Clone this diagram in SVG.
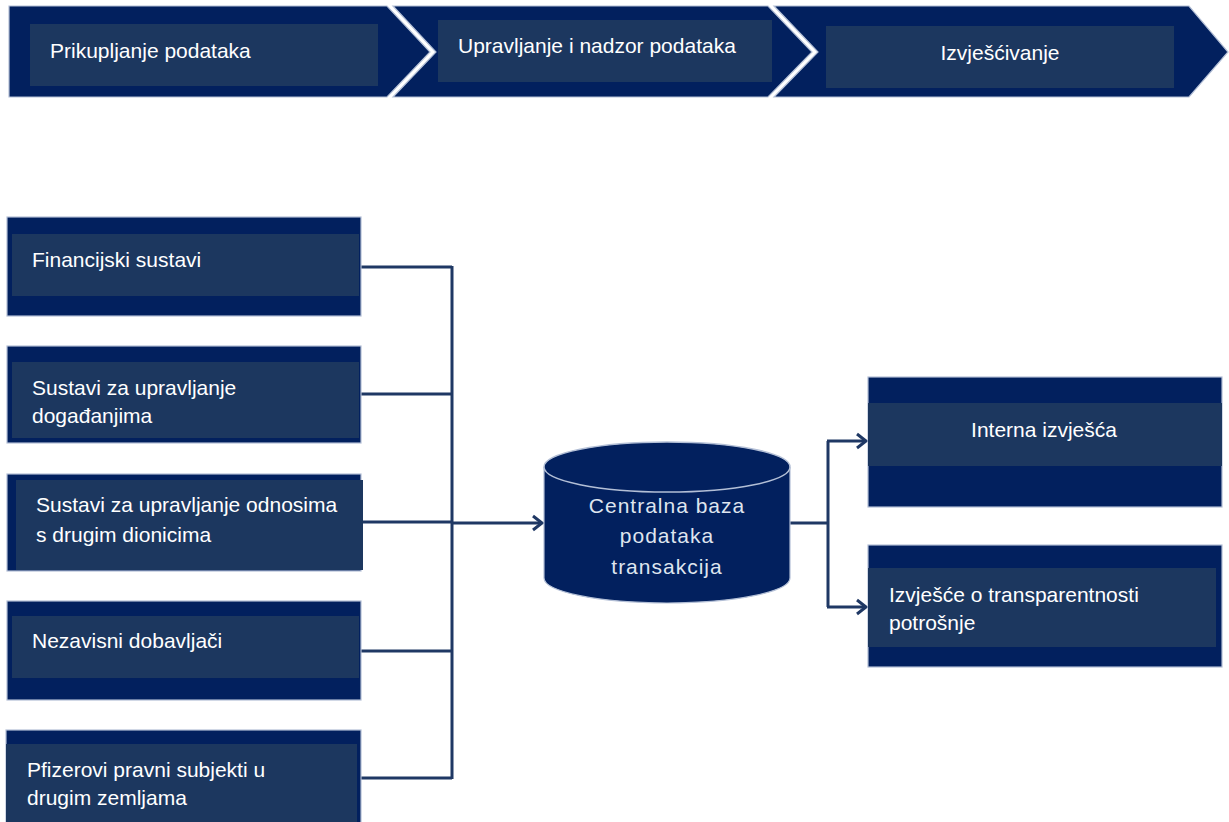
<svg xmlns="http://www.w3.org/2000/svg" width="1229" height="822" viewBox="0 0 1229 822">
<defs>
<style>
.outer{fill:#02205e;stroke:#b3bfd6;stroke-width:1.2}
.inner{fill:#1c375f}
.t{font-family:"Liberation Sans",Arial,sans-serif;font-size:21px;fill:#ffffff}
.tc{font-family:"Liberation Sans",Arial,sans-serif;font-size:21px;fill:#dfe5ef;letter-spacing:1px;text-anchor:middle}
.conn{fill:none;stroke:#1f3864;stroke-width:3}
</style>
<marker id="arr" markerUnits="userSpaceOnUse" markerWidth="14" markerHeight="18" refX="11" refY="9" orient="auto">
<path d="M2,2 L11,9 L2,16" fill="none" stroke="#1f3864" stroke-width="3" stroke-linejoin="miter"/>
</marker>
</defs>
<rect width="1229" height="822" fill="#ffffff"/>

<g id="step1">
<polygon class="outer" points="9,6 387,6 430,52 387,97 9,97"/>
<rect class="inner" x="30" y="24" width="348" height="62"/>
<text class="t" x="50" y="58" font-size="22">Prikupljanje podataka</text>
</g>
<g id="step2">
<polygon class="outer" points="393,6 768,6 812,52 768,97 393,97 436,52"/>
<rect class="inner" x="438" y="20" width="334" height="62"/>
<text class="t" x="458" y="53">Upravljanje i nadzor podataka</text>
</g>
<g id="step3">
<polygon class="outer" points="774,6 1189,6 1228,52 1189,97 774,97 818,52"/>
<rect class="inner" x="826" y="26" width="348" height="62"/>
<text class="t" x="1000" y="60" text-anchor="middle">Izvješćivanje</text>
</g>

<g id="connectors">
<path class="conn" d="M361,267 H452 M361,394 H452 M361,522 H452 M361,651 H452 M361,778 H452 M452,266 V779"/>
<path class="conn" d="M452,523 H542" marker-end="url(#arr)"/>
<path class="conn" d="M790,523 H828 M828,441 V607"/>
<path class="conn" d="M827,441 H866" marker-end="url(#arr)"/>
<path class="conn" d="M827,607 H866" marker-end="url(#arr)"/>
</g>

<g id="src1">
<rect class="outer" x="7" y="217" width="354" height="99"/>
<rect class="inner" x="12" y="234" width="347" height="62"/>
<text class="t" x="32" y="267">Financijski sustavi</text>
</g>
<g id="src2">
<rect class="outer" x="7" y="346" width="354" height="97"/>
<rect class="inner" x="12" y="362" width="347" height="76"/>
<text class="t" x="32" y="395">Sustavi za upravljanje</text>
<text class="t" x="32" y="423">događanjima</text>
</g>
<g id="src3">
<rect class="outer" x="7" y="474" width="354" height="97"/>
<rect class="inner" x="16" y="480" width="347" height="90"/>
<text class="t" x="36" y="512">Sustavi za upravljanje odnosima</text>
<text class="t" x="36" y="542">s drugim dionicima</text>
</g>
<g id="src4">
<rect class="outer" x="7" y="601" width="354" height="99"/>
<rect class="inner" x="12" y="616" width="347" height="62"/>
<text class="t" x="32" y="648">Nezavisni dobavljači</text>
</g>
<g id="src5">
<rect class="outer" x="6" y="730" width="355" height="100"/>
<rect class="inner" x="6" y="744" width="351" height="86"/>
<text class="t" x="27" y="777">Pfizerovi pravni subjekti u</text>
<text class="t" x="27" y="805">drugim zemljama</text>
</g>

<g id="database">
<path d="M544,467 V578 A123,25 0 0 0 790,578 V467" fill="#02205e" stroke="#b3bfd6" stroke-width="1.2"/>
<ellipse cx="667" cy="467" rx="123" ry="25" fill="#02205e" stroke="#b3bfd6" stroke-width="1.5"/>
<text class="tc" x="667" y="513">Centralna baza</text>
<text class="tc" x="667" y="543">podataka</text>
<text class="tc" x="667" y="574">transakcija</text>
</g>

<g id="out1">
<rect class="outer" x="868" y="377" width="354" height="130"/>
<rect class="inner" x="868" y="403" width="354" height="63"/>
<text class="t" x="1044" y="437" text-anchor="middle">Interna izvješća</text>
</g>
<g id="out2">
<rect class="outer" x="868" y="545" width="354" height="122"/>
<rect class="inner" x="868" y="568" width="348" height="79"/>
<text class="t" x="889" y="602">Izvješće o transparentnosti</text>
<text class="t" x="889" y="630">potrošnje</text>
</g>
</svg>
